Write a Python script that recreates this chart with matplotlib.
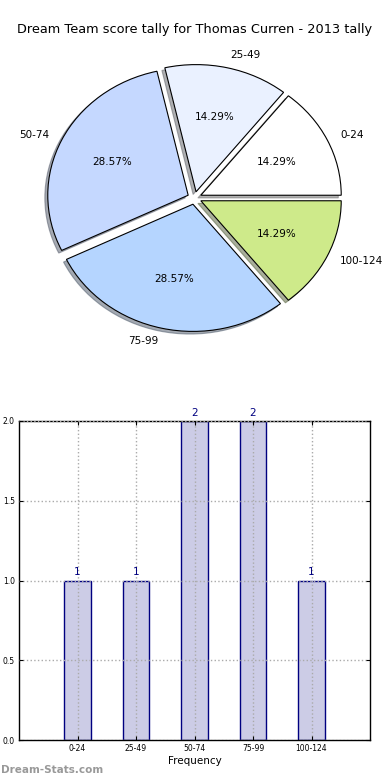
import matplotlib
matplotlib.use("Agg")
import matplotlib.pyplot as plt

categories = ["0-24", "25-49", "50-74", "75-99", "100-124"]
counts = [1, 1, 2, 2, 1]
pie_colors = ["#ffffff", "#eaf1ff", "#c5d8ff", "#b5d5ff", "#ceea8a"]
title = "Dream Team score tally for Thomas Curren - 2013 tally"

fig = plt.figure(figsize=(3.9, 7.8), dpi=100)
W, H = 390.0, 780.0

# Pie (not aspect-equal, as in the reference)
ax1 = fig.add_axes([19 / W, (780 - 357) / H, 351 / W, 318 / H])
wedges, texts, autotexts = ax1.pie(
    counts, labels=categories, colors=pie_colors, explode=[0.05] * 5,
    autopct="%1.2f%%", shadow={"ox": -0.015, "oy": -0.015, "shade": 0.6},
    startangle=0, labeldistance=1.1, pctdistance=0.6, radius=1.0,
    wedgeprops=dict(edgecolor="black", linewidth=0.8),
    textprops=dict(fontsize=7.5))
ax1.set_aspect("auto")
ax1.set_xlim(-1.25, 1.25)
ax1.set_ylim(-1.25, 1.25)
ax1.set_title(title, fontsize=9.3, pad=4)

# Bars
ax2 = fig.add_axes([19 / W, 40 / H, 351 / W, 319 / H])
x = list(range(len(categories)))
ax2.bar(x, counts, width=0.45, color="#ccccE6", edgecolor="#000080",
        linewidth=1.0, zorder=2)
ax2.set_xlim(-1, 5)
ax2.set_ylim(0, 2.0)
ax2.set_yticks([0.0, 0.5, 1.0, 1.5, 2.0])
ax2.set_yticklabels(["0.0", "0.5", "1.0", "1.5", "2.0"])
ax2.set_xticks(x)
ax2.set_xticklabels(categories)
ax2.tick_params(axis="both", labelsize=5.5, length=3, direction="in",
                top=True, right=True, pad=3)
ax2.grid(True, linestyle=":", color="#aaaaaa", linewidth=1.0, zorder=3)
ax2.set_axisbelow(False)
for xi, c in zip(x, counts):
    ax2.text(xi, c + 0.02, str(c), ha="center", va="bottom", color="#000080",
             fontsize=7.5, clip_on=False)
ax2.set_xlabel("Frequency", fontsize=7.5, labelpad=2)
for s in ax2.spines.values():
    s.set_linewidth(1.0)

fig.text(0.002, 1 - 770 / H, "Dream-Stats.com", ha="left", va="center",
         fontsize=7.5, color="#999999", fontweight="bold")

fig.savefig("out.png", dpi=100)
